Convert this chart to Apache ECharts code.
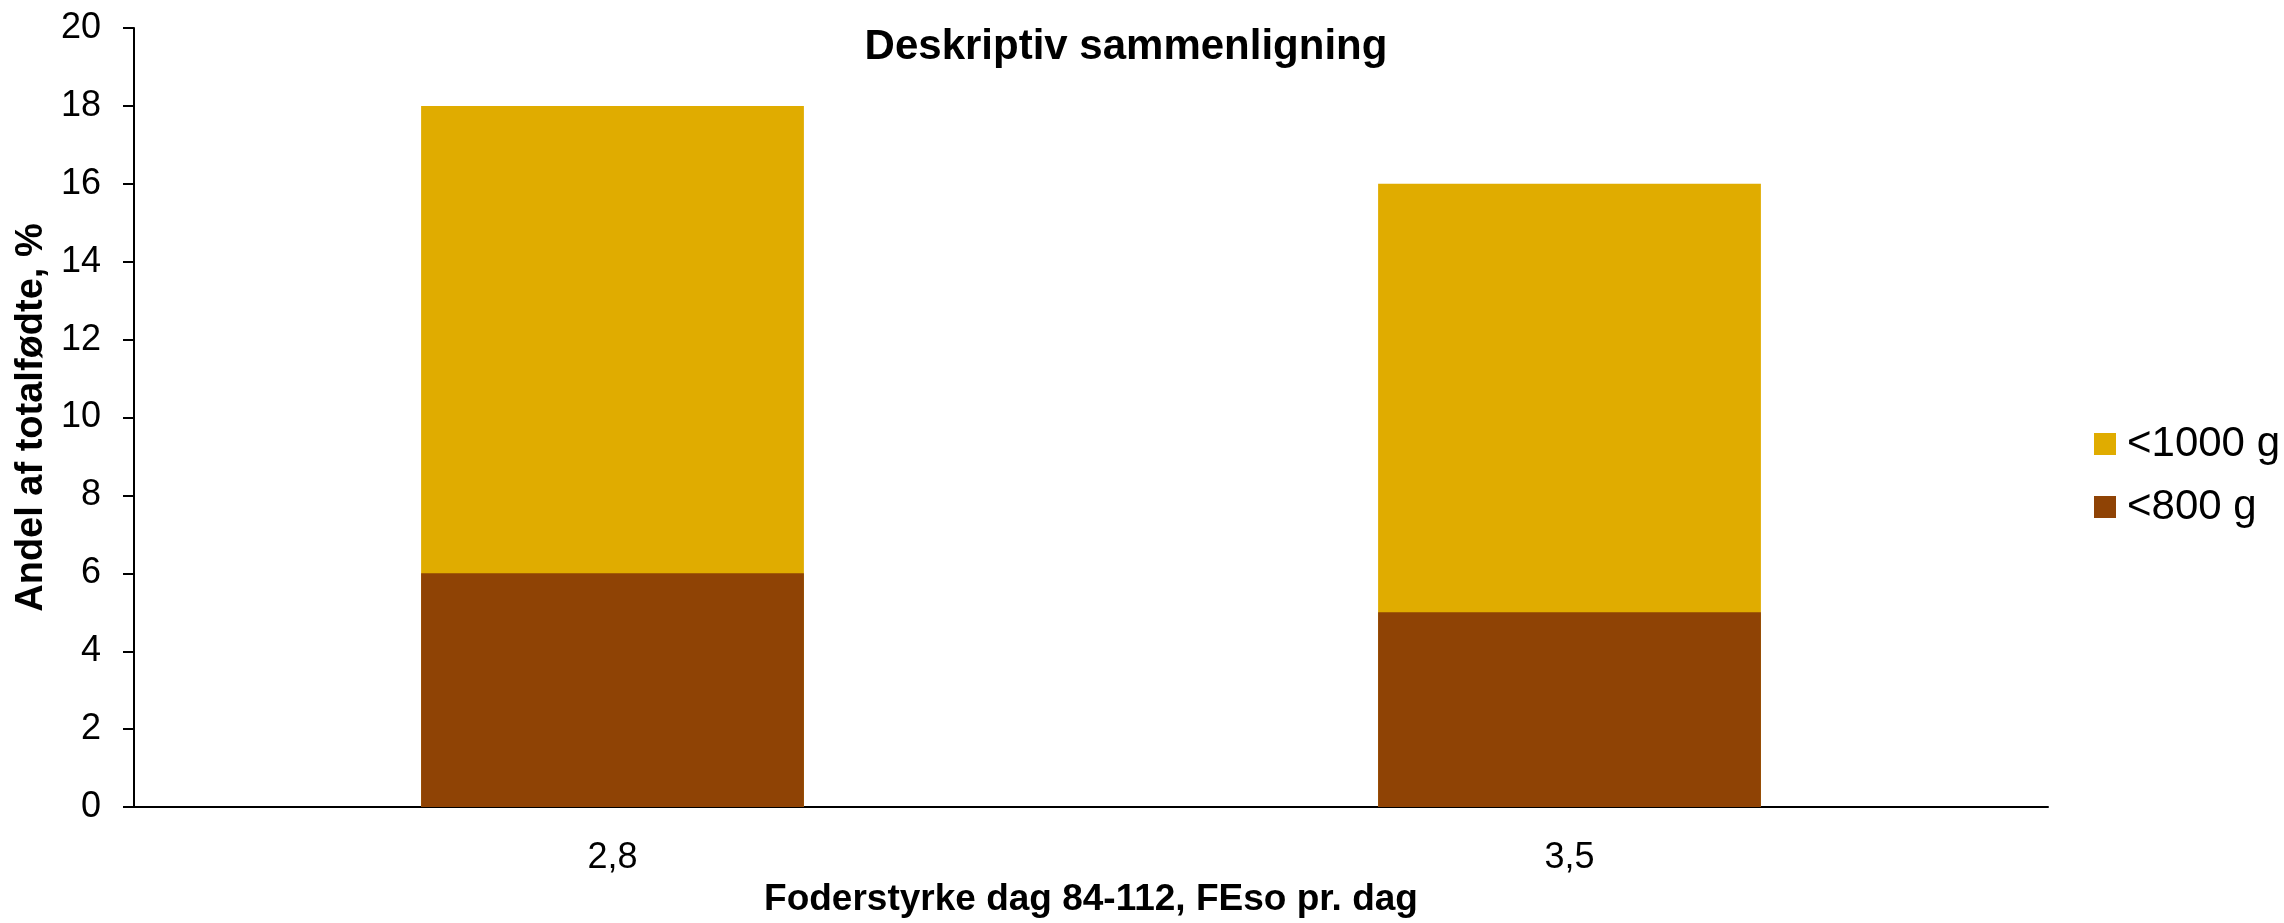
<!DOCTYPE html>
<html>
<head>
<meta charset="utf-8">
<script src="https://cdn.jsdelivr.net/npm/echarts@6/dist/echarts.min.js"></script>
<style>
html,body{margin:0;padding:0;background:#fff;}
#chart{width:2284px;height:923px;}
</style>
</head>
<body>
<div id="chart"></div>
<script>
const categories = ['2,8', '3,5'];
const under1000 = [18, 16];
const under800 = [6, 5];
const seriesNames = ['<1000 g', '<800 g'];
const yTicks = { min: 0, max: 20, interval: 2 };

const FONT = '"Liberation Sans", Arial, sans-serif';
const chart = echarts.init(document.getElementById('chart'), null, { renderer: 'canvas' });
chart.setOption({
  backgroundColor: '#ffffff',
  animation: false,
  title: {
    text: 'Deskriptiv sammenligning',
    left: 1126, top: 26,
    textAlign: 'center',
    padding: 0,
    textStyle: { fontFamily: FONT, fontSize: 42, fontWeight: 'bold', color: '#000' }
  },
  legend: {
    orient: 'vertical',
    left: 2094, top: 423,
    padding: 0,
    itemWidth: 22, itemHeight: 22, itemGap: 21,
    icon: 'rect',
    data: seriesNames,
    textStyle: { fontFamily: FONT, fontSize: 42, color: '#000', padding: [0, 0, 0, 6] }
  },
  grid: { left: 134, right: 236, top: 28, bottom: 115, containLabel: false },
  xAxis: {
    type: 'category',
    data: categories,
    name: 'Foderstyrke dag 84-112, FEso pr. dag',
    nameLocation: 'middle',
    nameGap: 72,
    nameTextStyle: { fontFamily: FONT, fontSize: 37, fontWeight: 'bold', color: '#000' },
    axisLine: { lineStyle: { color: '#000', width: 2 } },
    axisTick: { show: false },
    axisLabel: { fontFamily: FONT, fontSize: 36, color: '#000', margin: 33 },
    splitLine: { show: false }
  },
  yAxis: {
    type: 'value',
    min: yTicks.min, max: yTicks.max, interval: yTicks.interval,
    name: 'Andel af totalfødte, %',
    nameLocation: 'middle',
    nameGap: 82,
    nameTextStyle: { fontFamily: FONT, fontSize: 38, fontWeight: 'bold', color: '#000' },
    axisLine: { show: true, lineStyle: { color: '#000', width: 2 } },
    axisTick: { show: true, length: 11, lineStyle: { color: '#000', width: 2 } },
    axisLabel: { fontFamily: FONT, fontSize: 36, color: '#000', margin: 33 },
    splitLine: { show: false }
  },
  series: [
    {
      name: seriesNames[0], type: 'bar', data: under1000,
      barWidth: '40%', barGap: '-100%',
      itemStyle: { color: '#E0AC00' }
    },
    {
      name: seriesNames[1], type: 'bar', data: under800,
      barWidth: '40%', barGap: '-100%',
      itemStyle: { color: '#8F4305' }
    }
  ]
});
</script>
</body>
</html>
